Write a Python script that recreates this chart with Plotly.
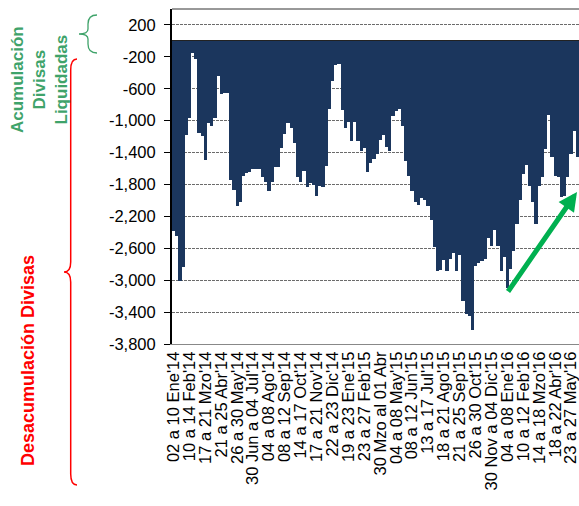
import plotly.graph_objects as go

# Weekly net balance of liquidated foreign currency (USD millions), Jan 2014 - Jun 2016
saldo_semanal = [
    -2380, -2440, -3015, -2840, -1180, -965, -150, -230, -1150, -1195,
    -1490, -1025, -1070, -965, -440, -670, -650, -650, -1750, -1865,
    -2065, -2015, -1690, -1660, -1640, -1605, -1605, -1605, -1710, -1775,
    -1885, -1765, -1585, -1585, -1345, -1165, -1025, -1090, -1280, -1710,
    -1775, -1625, -1835, -1780, -1805, -1940, -1815, -1835, -1565, -850,
    -505, -305, -295, -870, -1090, -1020, -1250, -1020, -1250, -1375,
    -1345, -1640, -1535, -1480, -1415, -1240, -1175, -1325, -1385, -945,
    -880, -850, -1070, -1500, -1690, -1885, -2025, -2055, -1975, -1995,
    -2075, -2245, -2590, -2890, -2875, -2750, -2885, -2735, -2660, -2885,
    -2680, -3260, -3430, -3450, -3630, -2820, -2790, -2765, -2735, -2475,
    -2570, -2370, -2570, -2885, -2705, -3095, -2855, -2630, -2290, -1995,
    -1670, -1550, -1815, -2025, -2290, -1825, -1700, -1355, -930, -1460,
    -1690, -1700, -1960, -1940, -1700, -1415, -1125, -1460,
]

# One label every five weeks
etiquetas_semana = [
    "02 a 10 Ene'14", "10 a 14 Feb'14", "17 a 21 Mzo'14", "21 a 25 Abr'14",
    "26 a 30 May'14", "30 Jun a 04 Jul'14", "04 a 08 Ago'14", "08 a 12 Sep'14",
    "14 a 17 Oct'14", "17 a 21 Nov'14", "22 a 23 Dic'14", "19 a 23 Ene'15",
    "23 a 27 Feb'15", "30 Mzo al 01 Abr", "04 a 08 May'15", "08 a 12 Jun'15",
    "13 a 17 Jul'15", "18 a 21 Ago'15", "21 a 25 Sep'15", "26 a 30 Oct'15",
    "30 Nov a 04 Dic'15", "04 a 08 Ene'16", "10 a 12 Feb'16", "14 a 18 Mzo'16",
    "18 a 22 Abr'16", "23 a 27 May'16",
]
paso_etiqueta = 5

y_ticks = [200, -200, -600, -1000, -1400, -1800, -2200, -2600, -3000, -3400, -3800]

semanas = list(range(len(saldo_semanal)))

W, H = 579, 506
ML, MR, MT, MB = 172, 0, 9, 162
PW, PH = W - ML - MR, H - MT - MB


def fx(p):
    return (p - ML) / PW


def fy(p):
    return (H - MB - p) / PH


def brace_path(pts):
    # pts: list of (cmd, coords) in pixel space -> path in paper space
    out = []
    for cmd, coords in pts:
        conv = []
        for i in range(0, len(coords), 2):
            conv.append(f"{fx(coords[i]):.5f},{fy(coords[i + 1]):.5f}")
        out.append(cmd + " " + " ".join(conv))
    return " ".join(out)


green_brace = brace_path([
    ("M", [97, 15]), ("Q", [88, 15, 88, 24]), ("L", [88, 29]),
    ("Q", [88, 34, 79, 34]), ("Q", [88, 34, 88, 39]), ("L", [88, 44]),
    ("Q", [88, 53, 97, 53]),
])
red_brace = brace_path([
    ("M", [77, 59]), ("Q", [70.7, 59, 70.7, 70]), ("L", [70.7, 262]),
    ("Q", [70.7, 272, 64, 272]), ("Q", [70.7, 272, 70.7, 282]), ("L", [70.7, 474]),
    ("Q", [70.7, 485, 77, 485]),
])

FONT = "Arial, Liberation Sans, sans-serif"
VERDE = "#3fa36a"
ROJO = "#ff0000"

fig = go.Figure(
    go.Bar(
        x=semanas,
        y=saldo_semanal,
        marker=dict(color="#1b365d", line=dict(width=0)),
        hoverinfo="skip",
    )
)

fig.update_layout(
    width=W,
    height=H,
    margin=dict(l=ML, r=MR, t=MT, b=MB, pad=0),
    paper_bgcolor="white",
    plot_bgcolor="white",
    bargap=0,
    showlegend=False,
    font=dict(family=FONT, color="black", size=16),
    shapes=[
        dict(type="line", xref="paper", yref="paper", x0=0, x1=1, y0=1, y1=1,
             line=dict(color="#333333", width=1)),
        dict(type="path", xref="paper", yref="paper", path=green_brace,
             line=dict(color=VERDE, width=1.3)),
        dict(type="path", xref="paper", yref="paper", path=red_brace,
             line=dict(color=ROJO, width=1.5)),
    ],
    annotations=[
        dict(text="<b>Acumulación<br>Divisas<br>Liquidadas</b>", textangle=-90,
             xref="paper", yref="paper", x=fx(40), y=fy(80),
             xanchor="center", yanchor="middle", showarrow=False,
             font=dict(family=FONT, size=17, color=VERDE)),
        dict(text="<b>Desacumulación Divisas</b>", textangle=-90,
             xref="paper", yref="paper", x=fx(28), y=fy(361),
             xanchor="center", yanchor="middle", showarrow=False,
             font=dict(family=FONT, size=18, color=ROJO)),
        dict(text="", xref="paper", yref="paper", x=fx(577), y=fy(192),
             ax=-70, ay=101, showarrow=True, arrowhead=2, arrowsize=0.75,
             arrowwidth=5, arrowcolor="#00b050"),
    ],
)

fig.update_xaxes(
    range=[-0.5, len(saldo_semanal) - 0.5],
    tickmode="array",
    tickvals=semanas[::paso_etiqueta][:len(etiquetas_semana)],
    ticktext=etiquetas_semana,
    tickangle=-90,
    ticks="",
    ticklabeloverflow="allow",
    showgrid=False,
    zeroline=False,
    showline=True,
    linecolor="#888888",
    linewidth=1,
    tickfont=dict(family=FONT, size=16.5, color="black"),
)

fig.update_yaxes(
    range=[-3800, 400],
    tickmode="array",
    tickvals=y_ticks,
    ticktext=[f"{v:,}" for v in y_ticks],
    ticks="outside",
    ticklen=6,
    tickwidth=1,
    tickcolor="black",
    ticklabelstandoff=5,
    showline=True,
    linecolor="black",
    linewidth=2,
    showgrid=True,
    gridcolor="#6b6b6b",
    griddash="3px,1px",
    gridwidth=1,
    zeroline=True,
    zerolinecolor="#222222",
    zerolinewidth=1,
    tickfont=dict(family=FONT, size=16.5, color="black"),
)

fig.write_html("out.html")
